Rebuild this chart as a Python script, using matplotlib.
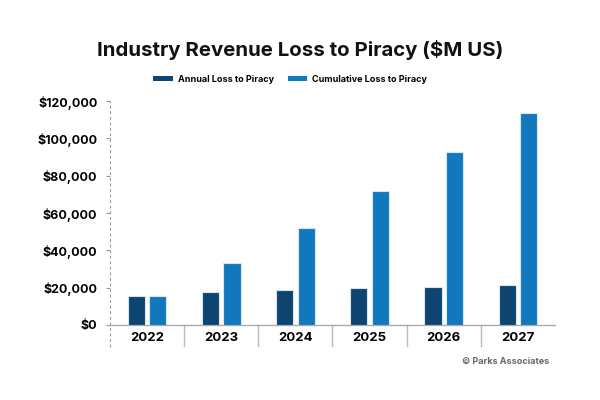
import matplotlib
matplotlib.use("Agg")
import matplotlib.pyplot as plt
import matplotlib.transforms as mtransforms
from matplotlib.patches import Patch
import numpy as np

years = ["2022", "2023", "2024", "2025", "2026", "2027"]
annual = [15700, 17600, 18700, 19600, 20300, 21200]
cumulative = [15700, 33200, 52000, 71800, 92600, 113600]
yticks = [0, 20000, 40000, 60000, 80000, 100000, 120000]

c_annual = "#0E4470"
c_cum = "#1278BE"

plt.rcParams['font.family'] = ['Inter', 'DejaVu Sans']

fig = plt.figure(figsize=(6, 4), dpi=100)
ax = fig.add_axes([110/600, 1-325/400, 445/600, 224/400])

x = np.arange(len(years))
w = 0.23
off = 0.145
ax.bar(x - off, annual, width=w, color=c_annual, edgecolor="#d8e6f2", linewidth=0.8, zorder=3)
ax.bar(x + off, cumulative, width=w, color=c_cum, edgecolor="#d8e6f2", linewidth=0.8, zorder=3)

ax.set_xlim(-0.5, len(years) - 0.5)
ax.set_ylim(0, 120000)
ax.set_yticks(yticks)
ax.set_yticklabels([f"${v:,.0f}" for v in yticks], fontsize=9, fontweight="bold")
ax.set_xticks(x)
ax.set_xticklabels(years, fontsize=9.5, fontweight="bold")
ax.tick_params(axis="x", length=0, pad=5)
ax.tick_params(axis="y", length=3, color="#999999", width=0.8, pad=6)

for s in ["top", "right", "left"]:
    ax.spines[s].set_visible(False)
ax.spines["bottom"].set_color("#aaaaaa")
ax.spines["bottom"].set_linewidth(1)

trans = mtransforms.blended_transform_factory(ax.transData, ax.transAxes)
ax.plot([-0.5, -0.5], [-0.1, 1.0], transform=trans, color="#999999",
        linestyle=(0, (2.5, 2.5)), linewidth=0.8, clip_on=False)
for b in np.arange(0.5, len(years) - 1, 1.0):
    ax.plot([b, b], [0, -0.095], transform=trans, color="#bbbbbb",
            linewidth=1, clip_on=False)

fig.text(0.5, 1-50/400, "Industry Revenue Loss to Piracy ($M US)", ha="center", va="center",
         fontsize=14.7, fontweight="bold", color="#111111")

handles = [Patch(facecolor=c_annual, label="Annual Loss to Piracy"),
           Patch(facecolor=c_cum, label="Cumulative Loss to Piracy")]
fig.legend(handles=handles, loc="center", bbox_to_anchor=(290/600, 1-79/400), ncol=2,
           frameon=False, prop={"size": 6.5, "weight": "bold"},
           handlelength=2.2, handleheight=0.55, columnspacing=1.55, handletextpad=0.55)

fig.text(549/600, 1-361/400, "© Parks Associates", ha="right", va="center",
         fontsize=6.5, fontweight="bold", color="#666666")

fig.savefig("out.png", dpi=100, facecolor="white")
